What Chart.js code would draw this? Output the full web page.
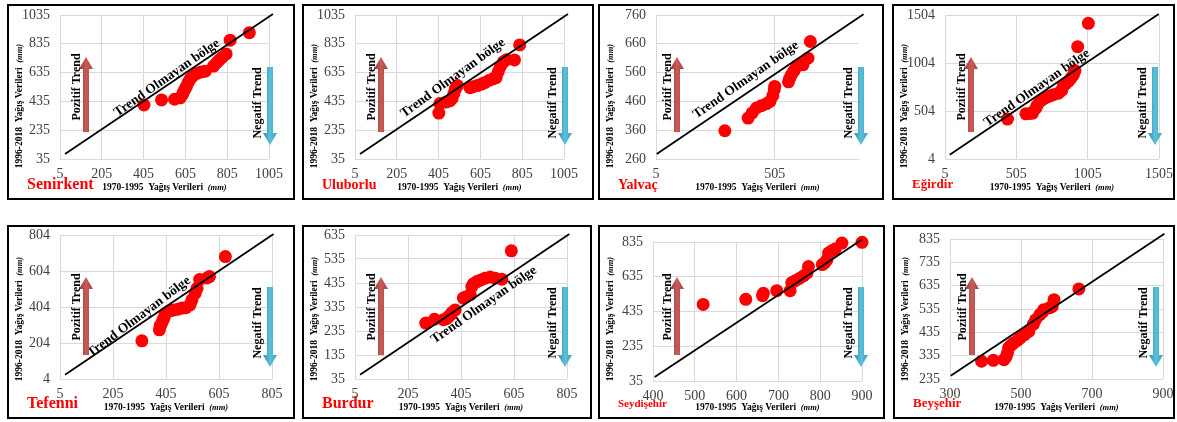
<!DOCTYPE html>
<html>
<head>
<meta charset="utf-8">
<script src="https://cdn.jsdelivr.net/npm/chart.js@4.4.0/dist/chart.umd.min.js"></script>
<style>
  body { margin: 0; background: #fff; width: 1177px; height: 422px; position: relative; overflow: hidden; }
  .panel { position: absolute; border: 2px solid #000; box-sizing: border-box; background: #fff; }
  .panel canvas { position: absolute; left: 0; top: 0; }
</style>
</head>
<body>
<script>
// ---------------- data (1970-1995 vs 1996-2018 rainfall, mm) ----------------
const stationNames = ['Senirkent', 'Uluborlu', 'Yalvaç', 'Eğirdir', 'Tefenni', 'Burdur', 'Seydişehir', 'Beyşehir'];

const senirkentX = [407, 491, 553, 580, 590, 596, 603, 610, 618, 628, 640, 660, 680, 700, 740, 752, 765, 780, 800, 819, 911];
const senirkentY = [410, 445, 450, 460, 480, 500, 520, 540, 565, 590, 610, 630, 640, 645, 680, 700, 720, 740, 765, 860, 912];

const uluborluX = [406, 411, 440, 460, 470, 478, 485, 495, 555, 570, 590, 610, 625, 645, 665, 680, 690, 700, 715, 730, 768, 793];
const uluborluY = [354, 420, 430, 440, 455, 490, 520, 545, 530, 537, 545, 555, 565, 580, 592, 600, 640, 675, 710, 725, 723, 827];

const yalvacX = [295, 393, 410, 428, 449, 470, 485, 497, 503, 505, 563, 568, 575, 585, 596, 612, 624, 645, 655];
const yalvacY = [358, 402, 420, 437, 445, 452, 460, 480, 500, 512, 528, 540, 552, 565, 581, 590, 587, 610, 668];

const egirdirX = [443, 572, 600, 619, 640, 650, 670, 690, 717, 740, 764, 800, 823, 834, 850, 869, 890, 905, 916, 935, 1010];
const egirdirY = [420, 475, 478, 482, 530, 560, 603, 625, 648, 660, 673, 690, 718, 766, 790, 811, 850, 880, 925, 1174, 1417];

const tefenniX = [314, 380, 383, 388, 393, 397, 402, 414, 425, 433, 450, 465, 480, 496, 503, 515, 522, 532, 560, 569, 629];
const tefenniY = [216, 277, 300, 311, 330, 342, 366, 379, 385, 388, 392, 398, 400, 416, 444, 480, 508, 557, 565, 573, 684];

const burdurX = [272, 305, 339, 350, 358, 365, 371, 383, 414, 425, 440, 446, 452, 465, 480, 496, 515, 534, 559, 595];
const burdurY = [268, 284, 282, 286, 295, 302, 312, 323, 372, 378, 386, 420, 432, 441, 448, 455, 460, 455, 451, 569];

const seydisehirX = [520, 622, 662, 664, 696, 728, 732, 740, 750, 760, 768, 772, 805, 810, 816, 820, 828, 836, 852, 900];
const seydisehirY = [476, 505, 526, 540, 555, 555, 601, 612, 625, 640, 655, 694, 705, 713, 732, 771, 785, 794, 829, 833];

const beysehirX = [389, 422, 452, 458, 462, 465, 472, 479, 490, 498, 510, 522, 535, 541, 553, 560, 564, 580, 588, 593, 663];
const beysehirY = [311, 315, 318, 330, 346, 368, 380, 389, 400, 411, 425, 439, 470, 489, 511, 520, 532, 540, 546, 575, 621];

// reference line ends [x, y] for each panel
const trendLines = [
  [[29, 70], [1024, 1042]],
  [[29, 70], [1024, 1042]],
  [[8, 277], [879, 763]],
  [[38, 49], [1503, 1514]],
  [[24, 28], [811, 810]],
  [[24, 53], [814, 639]],
  [[404, 58], [900, 849]],
  [[302, 249], [904, 858]]
];

// axis ranges and tick labels
const xRanges = [[5, 1005], [5, 1005], [5, 860], [5, 1505], [5, 805], [5, 805], [400, 900], [300, 900]];
const yRanges = [[35, 1035], [35, 1035], [260, 760], [4, 1504], [4, 804], [35, 635], [35, 835], [235, 835]];
const xTicks = [
  [5, 205, 405, 605, 805, 1005],
  [5, 205, 405, 605, 805, 1005],
  [5, 505],
  [5, 505, 1005, 1505],
  [5, 205, 405, 605, 805],
  [5, 205, 405, 605, 805],
  [400, 500, 600, 700, 800, 900],
  [300, 500, 700, 900]
];
const yTicks = [
  [35, 235, 435, 635, 835, 1035],
  [35, 235, 435, 635, 835, 1035],
  [260, 360, 460, 560, 660, 760],
  [4, 504, 1004, 1504],
  [4, 204, 404, 604, 804],
  [35, 135, 235, 335, 435, 535, 635],
  [35, 235, 435, 635, 835],
  [235, 335, 435, 535, 635, 735, 835]
];

const seriesX = [senirkentX, uluborluX, yalvacX, egirdirX, tefenniX, burdurX, seydisehirX, beysehirX];
const seriesY = [senirkentY, uluborluY, yalvacY, egirdirY, tefenniY, burdurY, seydisehirY, beysehirY];

// ---------------- layout (page pixels) ----------------
// box: [left, top, width, height], plot: [left, top, right, bottom]
const panels = [
  { box: [7, 4, 288, 196],   plot: [60, 15, 269, 159],    row: 0, nameSize: 16, trend: [160, 74, -35] },
  { box: [302, 4, 292, 196], plot: [355, 15, 564, 159],   row: 0, nameSize: 14, trend: [151, 74, -36] },
  { box: [598, 4, 286, 196], plot: [656, 15, 859, 159],   row: 0, nameSize: 14, trend: [148, 76, -35] },
  { box: [892, 4, 283, 196], plot: [945, 15, 1159, 159],  row: 0, nameSize: 13, trend: [145, 84, -35] },
  { box: [7, 225, 288, 194],   plot: [60, 235, 272, 379],   row: 1, nameSize: 16, trend: [132, 92, -37] },
  { box: [302, 225, 290, 194], plot: [355, 235, 567, 379],  row: 1, nameSize: 16, trend: [182, 80, -35] },
  { box: [598, 225, 287, 194], plot: [653, 242, 862, 381],  row: 1, nameSize: 11, trend: null },
  { box: [893, 225, 282, 194], plot: [950, 239, 1163, 379], row: 1, nameSize: 13, trend: null }
];
const rowLayout = [
  { redArrow: [79, 53, 128], pozitif: [70, 83], blueArrow: [263, 63, 141], negatif: [251, 99], yTitle: [13, 102], xTitleY: 184, nameY: 181 },
  { redArrow: [79, 52, 130], pozitif: [70, 82], blueArrow: [263, 62, 142], negatif: [251, 98], yTitle: [13, 94], xTitleY: 183, nameY: 179 }
];

const SERIF = '"Liberation Serif", "Times New Roman", serif';

function arrow(ctx, x, tailY, headY, c1, c2, c3) {
  const dir = headY < tailY ? -1 : 1;
  const shaft = 3, head = 7, headLen = 12;
  const g = ctx.createLinearGradient(x - head, 0, x + head, 0);
  g.addColorStop(0, c1); g.addColorStop(0.5, c2); g.addColorStop(1, c3);
  ctx.save();
  ctx.fillStyle = g;
  ctx.beginPath();
  ctx.moveTo(x - shaft, tailY);
  ctx.lineTo(x - shaft, headY - dir * headLen);
  ctx.lineTo(x - head, headY - dir * headLen);
  ctx.lineTo(x, headY);
  ctx.lineTo(x + head, headY - dir * headLen);
  ctx.lineTo(x + shaft, headY - dir * headLen);
  ctx.lineTo(x + shaft, tailY);
  ctx.closePath();
  ctx.fill();
  ctx.restore();
}

function rotText(ctx, txt, x, y, deg, font) {
  ctx.save();
  ctx.translate(x, y);
  ctx.rotate(deg * Math.PI / 180);
  ctx.font = font;
  ctx.textAlign = 'center';
  ctx.textBaseline = 'middle';
  ctx.fillStyle = '#000';
  ctx.fillText(txt, 0, 0);
  ctx.restore();
}

// "1970-1995  Yağış Verileri  (mm)" with the (mm) part in italic
function axisTitle(ctx, lead, x, y, deg) {
  const f1 = 'bold 9.5px ' + SERIF, f2 = 'italic bold 8.5px ' + SERIF;
  ctx.save();
  ctx.translate(x, y);
  ctx.rotate(deg * Math.PI / 180);
  ctx.textBaseline = 'middle';
  ctx.fillStyle = '#000';
  ctx.font = f1;
  const w1 = ctx.measureText(lead).width;
  ctx.font = f2;
  const w2 = ctx.measureText('(mm)').width;
  const start = -(w1 + w2) / 2;
  ctx.textAlign = 'left';
  ctx.font = f1;
  ctx.fillText(lead, start, 0);
  ctx.font = f2;
  ctx.fillText('(mm)', start + w1, 0);
  ctx.restore();
}

function makeOverlay(p, i) {
  return {
    id: 'overlay' + i,
    afterDatasetsDraw(chart) {
      const ctx = chart.ctx;
      const L = rowLayout[p.row];
      const o = 2; // canvas sits inside the 2px border
      if (p.trend) {
        rotText(ctx, 'Trend Olmayan bölge', p.trend[0] - o, p.trend[1] - o, p.trend[2], 'bold 13.5px ' + SERIF);
      }
      arrow(ctx, L.redArrow[0] - o, L.redArrow[2] - o, L.redArrow[1] - o, '#963835', '#c75d59', '#a8423f');
      arrow(ctx, L.blueArrow[0] - o, L.blueArrow[1] - o, L.blueArrow[2] - o, '#2e8ea8', '#5cc0da', '#3aa2bd');
      rotText(ctx, 'Pozitif Trend', L.pozitif[0] - o, L.pozitif[1] - o, -90, 'bold 12px ' + SERIF);
      rotText(ctx, 'Negatif Trend', L.negatif[0] - o, L.negatif[1] - o, -90, 'bold 12px ' + SERIF);
      axisTitle(ctx, '1996-2018  Yağış Verileri  ', L.yTitle[0] - o, L.yTitle[1] - o, -90);
      const a = chart.chartArea;
      axisTitle(ctx, '1970-1995  Yağış Verileri  ', (a.left + a.right) / 2, L.xTitleY - o, 0);
      ctx.save();
      ctx.font = 'bold ' + p.nameSize + 'px ' + SERIF;
      ctx.fillStyle = '#ff0000';
      ctx.textAlign = 'left';
      ctx.textBaseline = 'middle';
      ctx.fillText(stationNames[i], 20 - o, L.nameY - o);
      ctx.restore();
    }
  };
}

panels.forEach((p, i) => {
  const div = document.createElement('div');
  div.className = 'panel';
  div.style.left = p.box[0] + 'px';
  div.style.top = p.box[1] + 'px';
  div.style.width = p.box[2] + 'px';
  div.style.height = p.box[3] + 'px';
  document.body.appendChild(div);

  const cw = p.box[2] - 4, ch = p.box[3] - 4;
  const canvas = document.createElement('canvas');
  canvas.width = cw; canvas.height = ch;
  canvas.style.width = cw + 'px'; canvas.style.height = ch + 'px';
  div.appendChild(canvas);

  // plot area inside the canvas
  const pl = p.plot[0] - p.box[0] - 2;
  const pt = p.plot[1] - p.box[1] - 2;
  const pr = p.plot[2] - p.box[0] - 2;
  const pb = p.plot[3] - p.box[1] - 2;

  const pts = seriesX[i].map((x, k) => ({ x: x, y: seriesY[i][k] }));
  const line = trendLines[i].map(d => ({ x: d[0], y: d[1] }));
  const tickFont = { family: SERIF, size: 14 };

  new Chart(canvas, {
    type: 'scatter',
    data: {
      datasets: [
        { data: pts, backgroundColor: '#ff0000', borderWidth: 0, pointRadius: 6.5, pointHoverRadius: 6.5, clip: false, order: 1 },
        { type: 'line', data: line, borderColor: '#000', borderWidth: 1.8, pointRadius: 0, fill: false, clip: false, order: 0 }
      ]
    },
    options: {
      responsive: false,
      animation: false,
      events: [],
      devicePixelRatio: 1,
      layout: { padding: { left: 0, top: pt, right: cw - pr, bottom: 0 } },
      plugins: { legend: { display: false }, tooltip: { enabled: false } },
      scales: {
        x: {
          type: 'linear', min: xRanges[i][0], max: xRanges[i][1],
          afterBuildTicks: s => { s.ticks = xTicks[i].map(v => ({ value: v })); },
          afterFit: s => { s.height = ch - pb; s.paddingLeft = 0; s.paddingRight = 0; },
          grid: { color: '#d9d9d9', drawTicks: false },
          border: { display: false },
          ticks: { font: tickFont, color: '#404040', padding: 7, maxRotation: 0, autoSkip: false, callback: v => String(v) }
        },
        y: {
          type: 'linear', min: yRanges[i][0], max: yRanges[i][1],
          afterBuildTicks: s => { s.ticks = yTicks[i].map(v => ({ value: v })); },
          afterFit: s => { s.width = pl; s.paddingTop = 0; s.paddingBottom = 0; },
          grid: { color: '#d9d9d9', drawTicks: false },
          border: { display: false },
          ticks: { font: tickFont, color: '#404040', padding: 10, autoSkip: false, callback: v => String(v) }
        }
      }
    },
    plugins: [makeOverlay(p, i)]
  });
});
</script>
</body>
</html>
